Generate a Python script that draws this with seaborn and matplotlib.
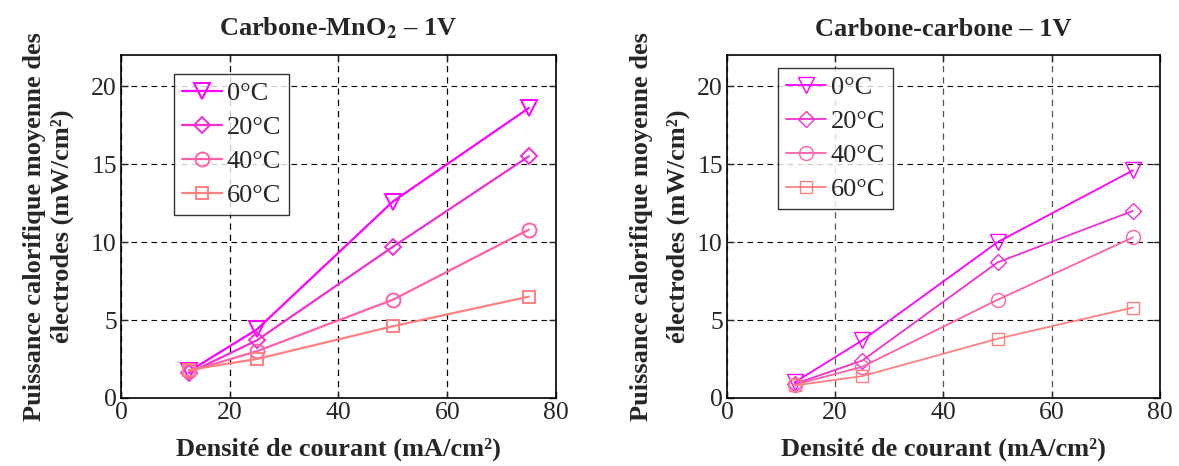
import pandas as pd
import matplotlib
matplotlib.use("Agg")
import matplotlib.pyplot as plt
import seaborn as sns

# data
densite = [12.5, 25, 50, 75]
temperatures = ["0°C", "20°C", "40°C", "60°C"]

mno2_0 = [1.7, 4.4, 12.6, 18.6]
mno2_20 = [1.6, 3.7, 9.7, 15.5]
mno2_40 = [1.7, 3.0, 6.3, 10.8]
mno2_60 = [1.8, 2.5, 4.6, 6.5]

cc_0 = [1.0, 3.7, 10.0, 14.6]
cc_20 = [0.9, 2.4, 8.7, 12.0]
cc_40 = [0.85, 2.0, 6.3, 10.3]
cc_60 = [0.8, 1.4, 3.8, 5.8]

couleurs = ["#ff00ff", "#f030d0", "#ff60a8", "#ff8080"]
marqueurs = ["v", "D", "o", "s"]
tailles = [11, 8, 10, 9]

sns.set_theme(style="ticks")
plt.rcParams["font.family"] = ["Liberation Serif", "DejaVu Serif"]
plt.rcParams["mathtext.fontset"] = "stix"

fig = plt.figure(figsize=(11.79, 4.66), dpi=100)
ax1 = fig.add_axes([0.1026, 0.146, 0.369, 0.736])
ax2 = fig.add_axes([0.6166, 0.146, 0.3673, 0.736])

# (axes, series, title, legend anchor, line width, marker edge, vertical grid colour,
#  ylabel line spacing, ylabel pad)
panneaux = [
    (ax1, [mno2_0, mno2_20, mno2_40, mno2_60], r"Carbone-MnO$_\mathbf{2}$ – 1V",
     (0.122, 0.946), 1.6, 1.4, "black", 1.25, 12),
    (ax2, [cc_0, cc_20, cc_40, cc_60], "Carbone-carbone – 1V",
     (0.118, 0.962), 1.3, 1.0, "#555555", 1.75, 5),
]

for ax, series, titre, pos, lw, mew, vcol, lsp, ypad in panneaux:
    for t, vals, c, m, ms in zip(temperatures, series, couleurs, marqueurs, tailles):
        d = pd.DataFrame({"x": densite, "y": vals})
        sns.lineplot(data=d, x="x", y="y", ax=ax, color=c, marker=m, markersize=ms,
                     markerfacecolor="none", markeredgecolor=c, markeredgewidth=mew,
                     linewidth=lw, label=t)
    ax.set_xlim(0, 80)
    ax.set_ylim(0, 22)
    ax.set_xticks([0, 20, 40, 60, 80])
    ax.set_yticks([0, 5, 10, 15, 20])
    ax.yaxis.grid(True, color="black", linestyle=(0, (5, 4)), linewidth=0.8)
    ax.xaxis.grid(True, color=vcol, linestyle=(0, (5, 4)), linewidth=0.9)
    ax.tick_params(labelsize=18.5, direction="in", length=5, width=1, top=True, right=True, pad=3)
    for s in ax.spines.values():
        s.set_linewidth(1.2)
        s.set_color("black")
    ax.set_title(titre, fontsize=19, fontweight="bold", pad=14)
    ax.set_xlabel("Densité de courant (mA/cm²)", fontsize=19, fontweight="bold", labelpad=10)
    ax.set_ylabel("Puissance calorifique moyenne des\nélectrodes (mW/cm²)", fontsize=19,
                  fontweight="bold", labelpad=ypad, linespacing=lsp)
    leg = ax.legend(loc="upper left", bbox_to_anchor=pos, fontsize=19, frameon=True,
                    fancybox=False, edgecolor="black", handlelength=1.5, handletextpad=0.2,
                    labelspacing=0.4, borderpad=0.3, borderaxespad=0)
    leg.get_frame().set_linewidth(1.0)

fig.savefig("out.png", dpi=100)
